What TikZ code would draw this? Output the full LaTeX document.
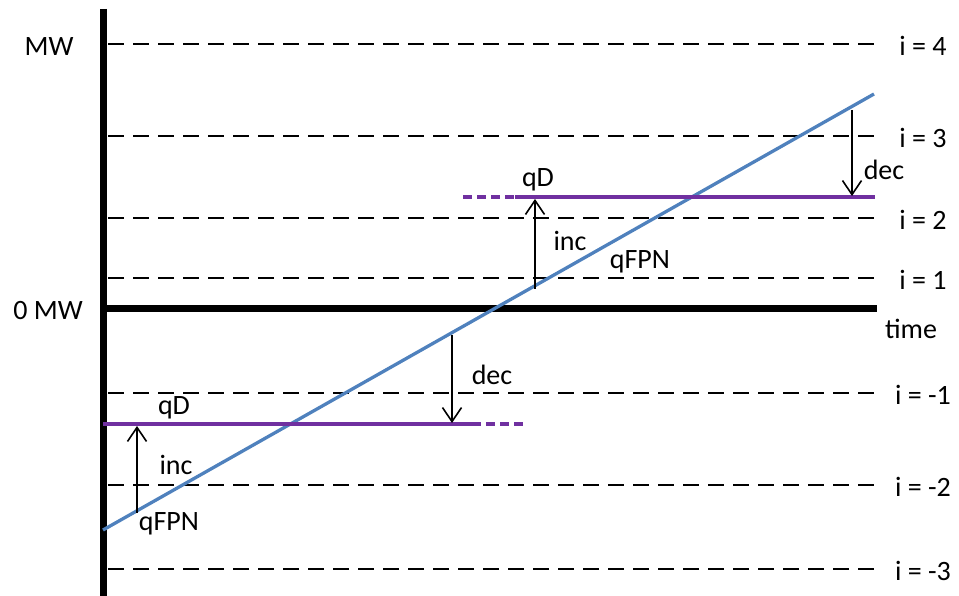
\documentclass[tikz,border=0pt]{standalone}
\usepackage{fontspec}
\setmainfont{Carlito}
\usetikzlibrary{arrows.meta}
\definecolor{bluel}{RGB}{79,129,189}
\definecolor{purp}{RGB}{112,48,160}
\begin{document}
\begin{tikzpicture}[x=1pt,y=-1pt,
  lbl/.style={font=\fontsize{28}{32}\selectfont,inner sep=0pt},
  grid/.style={line width=1.8pt,dash pattern=on 16pt off 9pt},
  axis/.style={line width=7pt},
  qd/.style={purp,line width=4.2pt},
  qddash/.style={purp,line width=4.2pt,dash pattern=on 9pt off 5pt},
  fpn/.style={bluel,line width=3.3pt},
  arr/.style={line width=1.6pt,-{Straight Barb[length=14pt,width=19pt,line width=1.6pt]}}]
\useasboundingbox (0,0) rectangle (959,596);
% grid lines
\foreach \yy/\ii in {44/4,136/3,218/2,278/1,393/-1,485/-2,569/-3}{
  \draw[grid] (108,\yy) -- (876,\yy);
  \node[lbl] (i\ii) at (923,\yy+2) {i = \ii};
}
% axes
\coordinate (vtop) at (103,9);
\coordinate (vbot) at (103,596);
\draw[axis] (vtop) -- (vbot);
\coordinate (h0) at (100,308);
\coordinate (h1) at (877,308);
\draw[axis] (h0) -- (h1);
\node[lbl] (mw) at (49,47) {MW};
\node[lbl] (zmw) at (48,311) {0 MW};
\node[lbl] (time) at (911,329) {time};
% qFPN line
\coordinate (f0) at (103,530);
\coordinate (f1) at (874,94);
\draw[fpn] (f0) -- (f1);
% upper qD
\coordinate (ud0) at (463,197);
\coordinate (ud1) at (515,197);
\coordinate (ud2) at (875,197);
\draw[qddash] (ud0) -- (ud1);
\draw[qd] (ud1) -- (ud2);
% lower qD
\coordinate (ld0) at (103,424);
\coordinate (ld1) at (472,424);
\coordinate (ld2) at (524,424);
\draw[qd] (ld0) -- (ld1);
\draw[qddash] (ld1) -- (ld2);
% arrows
\coordinate (a1s) at (535,289); \coordinate (a1e) at (535,199);
\draw[arr] (a1s) -- (a1e);
\coordinate (a2s) at (852,110); \coordinate (a2e) at (852,196);
\draw[arr] (a2s) -- (a2e);
\coordinate (a3s) at (452,335); \coordinate (a3e) at (452,423);
\draw[arr] (a3s) -- (a3e);
\coordinate (a4s) at (137,513); \coordinate (a4e) at (137,426);
\draw[arr] (a4s) -- (a4e);
% labels
\node[lbl] (qdu) at (538,180) {qD};
\node[lbl] (incu) at (570,241) {inc};
\node[lbl] (fpnu) at (640,262) {qFPN};
\node[lbl] (decu) at (884,170) {dec};
\node[lbl] (decl) at (492,375) {dec};
\node[lbl] (qdl) at (174,408) {qD};
\node[lbl] (incl) at (176,465) {inc};
\node[lbl] (fpnl) at (169,524) {qFPN};
\end{tikzpicture}
\end{document}
